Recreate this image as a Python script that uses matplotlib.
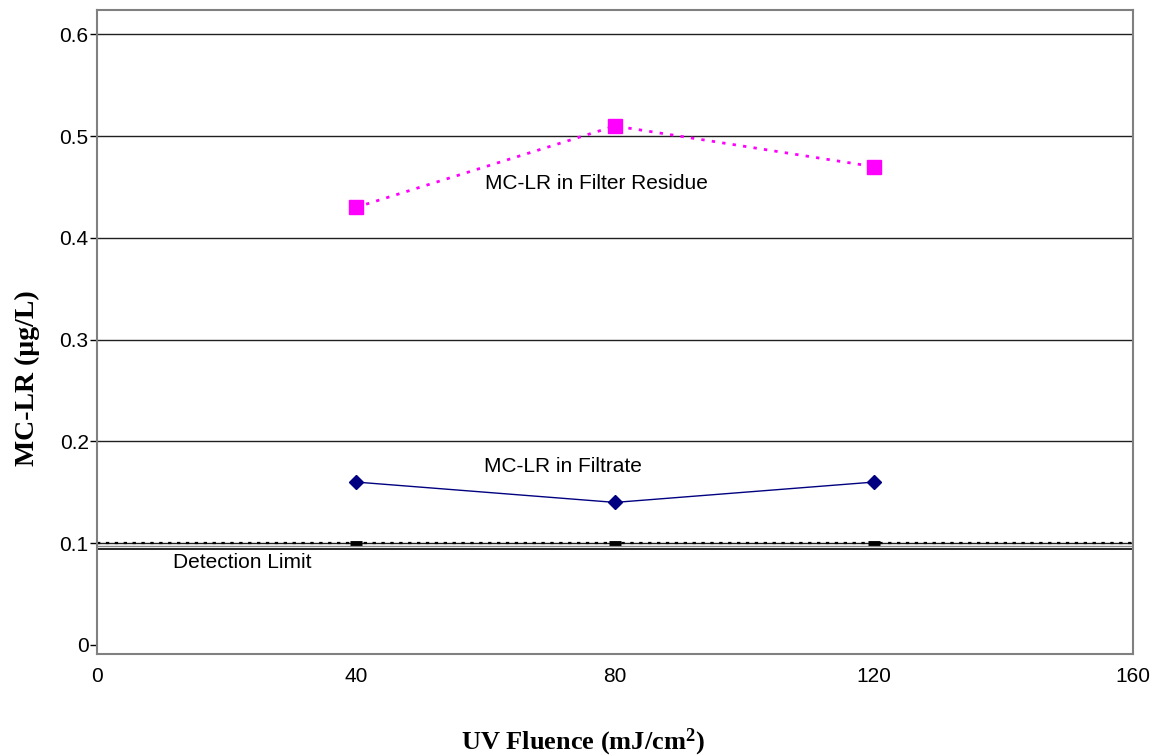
import matplotlib
matplotlib.use("Agg")
import matplotlib.pyplot as plt

fluence = [40, 80, 120]
residue = [0.43, 0.51, 0.47]
filtrate = [0.16, 0.14, 0.16]
detection = [0.10, 0.10, 0.10]
xticks = [0, 40, 80, 120, 160]
yticks = [0, 0.1, 0.2, 0.3, 0.4, 0.5, 0.6]
ytick_labels = ["0", "0.1", "0.2", "0.3", "0.4", "0.5", "0.6"]

plt.rcParams['font.family'] = ['Liberation Sans', 'DejaVu Sans']
plt.rcParams['mathtext.fontset'] = 'custom'
plt.rcParams['mathtext.rm'] = 'Liberation Serif'
plt.rcParams['mathtext.bf'] = 'Liberation Serif:bold'

fig = plt.figure(figsize=(11.59, 7.56), dpi=100)
ax = fig.add_axes([97/1159, 1-654/756, (1133-97)/1159, (654-10)/756])
ax.set_xlim(0, 160)
ax.set_ylim(-0.009, 0.624)

# gridlines
for v in yticks[1:]:
    ax.axhline(v, color='#202020', lw=1.0, zorder=1)
ax.axhline(0.094, color='black', lw=1.2, zorder=1)
ax.axhline(0.097, color='#888888', lw=1.0, zorder=1)

# detection limit
ax.plot([0, 160], [detection[0], detection[0]], color='black', ls=(0, (1.5, 2.5)), lw=1.6, zorder=2)
ax.plot(fluence, detection, ls='none', marker='_', color='black', ms=9, mew=3.5, zorder=3)

# filter residue
ax.plot(fluence, residue, color='#FF00FF', ls=(0, (1.2, 2.6)), lw=2.0, marker='s', ms=9.5, zorder=4)
# filtrate
ax.plot(fluence, filtrate, color='#000080', ls='-', lw=1.0, marker='D', ms=7, zorder=4)

ax.text(77.2, 0.453, "MC-LR in Filter Residue", ha='center', va='center', fontsize=15)
ax.text(72, 0.175, "MC-LR in Filtrate", ha='center', va='center', fontsize=15)
ax.text(22.5, 0.081, "Detection Limit", ha='center', va='center', fontsize=15)

for s in ax.spines.values():
    s.set_color('#808080')
    s.set_linewidth(1.5)

ax.set_xticks(xticks)
ax.set_xticklabels([str(x) for x in xticks], fontsize=15)
ax.tick_params(axis='x', length=0, pad=9)
ax.set_yticks(yticks)
ax.set_yticklabels(ytick_labels, fontsize=15)
ax.tick_params(axis='y', length=5, width=1, color='black', pad=1)

fig.text(27/1159, 1-378/756, "MC-LR (µg/L)", rotation=90, ha='center', va='center',
         fontsize=20, fontweight='bold', family='Liberation Serif')
fig.text(583/1159, 1-742/756, "UV Fluence (mJ/cm$\\mathbf{^2}$)", ha='center', va='center',
         fontsize=19, fontweight='bold', family='Liberation Serif')

fig.savefig("out.png", dpi=100)
